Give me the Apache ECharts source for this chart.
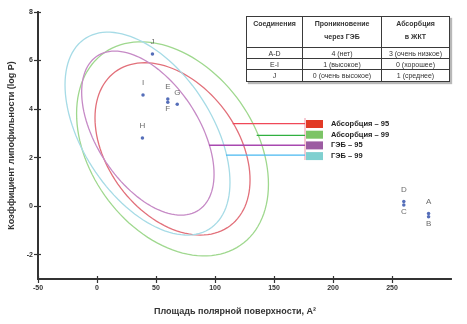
<!DOCTYPE html>
<html>
<head>
    <meta charset="utf-8">
    <title>Яйцо Игана</title>
    <script src="https://cdn.jsdelivr.net/npm/echarts@6/dist/echarts.min.js"></script>
    <style type="text/css">
        *{margin: 0;padding: 0;}
        body{width: 467px;height: 324px;overflow: hidden;background: #fff;font-family: 'Liberation Sans', Arial, sans-serif;}
        #wrap{position: relative;width: 467px;height: 324px;}
        #main{position: absolute;left: 0;top: 0;width: 467px;height: 324px;}
        #tbl{position: absolute;left: 246px;top: 16px;width: 203px;height: 65px;border-collapse: collapse;
             box-shadow: 2px 2px 1px #b8b8b8;background: #fff;font-size: 7px;color: #333;table-layout: fixed;}
        #tbl td{border: 1.3px solid #3a3a3a;text-align: center;vertical-align: middle;line-height: 9px;padding: 0;}
        #tbl tr.hd td{font-weight: 700;vertical-align: top;line-height: 13px;padding-top: 0px;}
    </style>
</head>
<body>
<div id="wrap">
    <div id="main"></div>
    <table id="tbl"></table>
</div>
<script type="text/javascript">
    // точки соединений
    var pointNames = ['J', 'I', 'E', 'F', 'G', 'H', 'D', 'C', 'A', 'B'];
    var pointX = [47, 39, 60, 60, 68, 38.5, 260, 260, 281, 281];
    var pointY = [6.27, 4.58, 4.42, 4.28, 4.2, 2.81, 0.19, 0.05, -0.3, -0.44];
    var labelPos = ['top', 'top', 'top', 'bottom', 'top', 'top', 'top', 'bottom', 'top', 'bottom'];

    // эллипсы: центр, полуоси, корреляция
    var ellipseNames = ['Абсорбция – 95', 'Абсорбция – 99', 'ГЭБ – 95', 'ГЭБ – 99'];
    var ellipseCx = [64, 64, 43.1, 42.8];
    var ellipseCy = [2.36, 2.36, 3.01, 2.99];
    var ellipseRx = [65.7, 81.3, 56.1, 69.9];
    var ellipseRy = [3.55, 4.41, 3.38, 4.18];
    var ellipseCorr = [-0.36, -0.33, -0.5, -0.48];
    var ellipseColors = ['#e2707a', '#9fd88e', '#c68ac6', '#a6dbe6'];
    var legendColors = ['#e23a26', '#7cc466', '#9c5ca2', '#80d0d0'];

    // выноски к легенде
    var leaderStartX = [115, 135.3, 95, 109.3];
    var leaderEndX = [176.3, 176.3, 176.3, 176.3];
    var leaderY = [3.4, 2.92, 2.51, 2.1];
    var leaderColors = ['#f04858', '#30b040', '#a848b0', '#48b8f0'];

    var xTicks = [-50, 0, 50, 100, 150, 200, 250];
    var yTicks = [-2, 0, 2, 4, 6, 8];

    var tableHeader = ['Соединения', 'Проникновение<br>через ГЭБ', 'Абсорбция<br>в ЖКТ'];
    var tableRows = [
        ['A-D', '4 (нет)', '3 (очень низкое)'],
        ['E-I', '1 (высокое)', '0 (хорошее)'],
        ['J', '0 (очень высокое)', '1 (среднее)']
    ];

    /*------------------------------------------таблица----------------------------------------------------------*/
    var colW = [56, 79, 68];
    var rowH = [31, 11, 11, 12];
    var html = '<colgroup>';
    for (var c = 0; c < colW.length; c++) {
        html += '<col style="width:' + colW[c] + 'px">';
    }
    html += '</colgroup><tr class="hd" style="height:' + rowH[0] + 'px">';
    for (var c = 0; c < tableHeader.length; c++) {
        html += '<td>' + tableHeader[c] + '</td>';
    }
    html += '</tr>';
    for (var r = 0; r < tableRows.length; r++) {
        html += '<tr style="height:' + rowH[r + 1] + 'px">';
        for (var c = 0; c < tableRows[r].length; c++) {
            html += '<td>' + tableRows[r][c] + '</td>';
        }
        html += '</tr>';
    }
    document.getElementById('tbl').innerHTML = html;

    /*------------------------------------------график----------------------------------------------------------*/
    var myChart = echarts.init(document.getElementById('main'));
    var font = "'Liberation Sans', Arial, sans-serif";

    function renderEllipse(params, api) {
        var cx = api.value(0), cy = api.value(1), rx = api.value(2), ry = api.value(3);
        var ph = Math.acos(api.value(4));
        var pts = [];
        for (var k = 0; k <= 120; k++) {
            var t = k / 120 * 2 * Math.PI;
            pts.push(api.coord([cx + rx * Math.cos(t), cy + ry * Math.cos(t - ph)]));
        }
        return {
            type: 'polyline',
            shape: {points: pts},
            style: {stroke: api.visual('color'), fill: 'none', lineWidth: 1.3}
        };
    }

    var series = [];
    for (var i = 0; i < ellipseNames.length; i++) {
        series.push({
            name: ellipseNames[i],
            type: 'custom',
            silent: true,
            color: ellipseColors[i],
            renderItem: renderEllipse,
            encode: {x: 0, y: 1},
            data: [[ellipseCx[i], ellipseCy[i], ellipseRx[i], ellipseRy[i], ellipseCorr[i]]],
            z: 2
        });
    }
    for (var i = 0; i < leaderY.length; i++) {
        series.push({
            name: 'leader' + i,
            type: 'line',
            symbol: 'none',
            silent: true,
            lineStyle: {color: leaderColors[i], width: 1.3},
            data: [[leaderStartX[i], leaderY[i]], [leaderEndX[i], leaderY[i]]],
            z: 3
        });
    }
    var pts = [];
    for (var i = 0; i < pointNames.length; i++) {
        pts.push({
            name: pointNames[i],
            value: [pointX[i], pointY[i]],
            label: {position: labelPos[i], distance: labelPos[i] == 'top' ? 6 : 1}
        });
    }
    series.push({
        name: 'points',
        type: 'scatter',
        symbolSize: 3.5,
        itemStyle: {color: '#2a4aa8'},
        label: {
            show: true,
            formatter: '{b}',
            fontSize: 8,
            color: '#444',
            fontFamily: font
        },
        data: pts,
        z: 4
    });

    var legendData = [];
    for (var i = 0; i < ellipseNames.length; i++) {
        legendData.push({name: ellipseNames[i], icon: 'rect', itemStyle: {color: legendColors[i]}});
    }

    var axisCommon = {
        axisLine: {onZero: false, lineStyle: {color: '#333', width: 2}},
        splitLine: {show: false}
    };

    var option = {
        animation: false,
        grid: {left: 38, right: 16, top: 12, bottom: 45, containLabel: false, outerBoundsMode: 'none'},
        legend: {
            orient: 'vertical',
            left: 306,
            top: 120,
            itemWidth: 17,
            itemHeight: 8,
            itemGap: 2.7,
            padding: 0,
            selectedMode: false,
            textStyle: {fontSize: 7.5, fontWeight: 'bold', color: '#222', fontFamily: font, lineHeight: 8, padding: [0, 0, 0, 3]},
            data: legendData
        },
        graphic: [{
            type: 'line',
            shape: {x1: 305, y1: 118, x2: 305, y2: 160},
            style: {stroke: '#f2a8b8', lineWidth: 1.2},
            z: 1
        }],
        xAxis: [
            echarts.util.merge({
                type: 'value', min: -50, max: 300,
                name: 'Площадь полярной поверхности, A²',
                nameLocation: 'middle',
                nameGap: 28,
                nameTextStyle: {fontSize: 9, fontWeight: 'bold', color: '#333', fontFamily: font, padding: [0, 19, 0, 0]},
                axisTick: {customValues: xTicks, length: 4, lineStyle: {color: '#333', width: 1.2}},
                axisLabel: {customValues: xTicks, fontSize: 7, fontWeight: 'bold', color: '#333', fontFamily: font, margin: 6}
            }, axisCommon, true),
            echarts.util.merge({
                type: 'value', min: -50, max: 300, position: 'bottom',
                axisTick: {customValues: xTicks, inside: true, length: 3, lineStyle: {color: '#333', width: 1.2}},
                axisLabel: {show: false}
            }, axisCommon, true)
        ],
        yAxis: [
            echarts.util.merge({
                type: 'value', min: -3, max: 8,
                name: 'Коэффициент липофильности (log P)',
                nameLocation: 'middle',
                nameGap: 20,
                nameRotate: 90,
                nameTextStyle: {fontSize: 9, fontWeight: 'bold', color: '#333', fontFamily: font},
                axisTick: {customValues: yTicks, length: 4, lineStyle: {color: '#333', width: 1.2}},
                axisLabel: {customValues: yTicks, fontSize: 7, fontWeight: 'bold', color: '#333', fontFamily: font, margin: 5}
            }, axisCommon, true),
            echarts.util.merge({
                type: 'value', min: -3, max: 8, position: 'left',
                axisTick: {customValues: yTicks, inside: true, length: 3, lineStyle: {color: '#333', width: 1.2}},
                axisLabel: {show: false}
            }, axisCommon, true)
        ],
        series: series
    };

    myChart.setOption(option);
</script>
</body>
</html>
